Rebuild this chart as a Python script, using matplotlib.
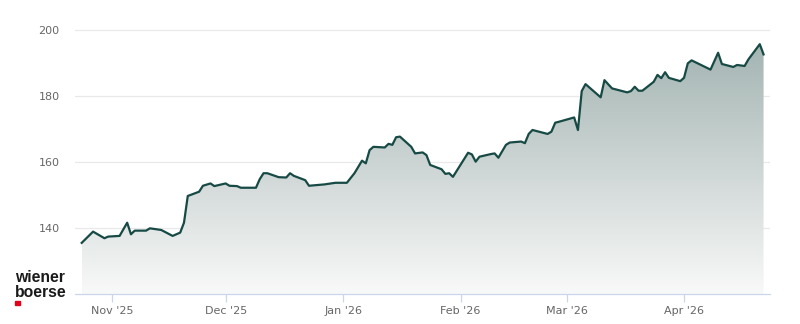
import matplotlib
matplotlib.use("Agg")
import matplotlib.pyplot as plt
import matplotlib.dates as mdates
import numpy as np
import pandas as pd
from matplotlib.patches import Rectangle

dates = ["2025-10-24","2025-10-27","2025-10-30","2025-10-31","2025-11-03","2025-11-05","2025-11-06",
         "2025-11-07","2025-11-10","2025-11-11","2025-11-14","2025-11-17","2025-11-19","2025-11-20",
         "2025-11-21","2025-11-24","2025-11-25","2025-11-27","2025-11-28","2025-12-01","2025-12-02",
         "2025-12-04","2025-12-05","2025-12-09","2025-12-10","2025-12-11","2025-12-12","2025-12-15",
         "2025-12-17","2025-12-18","2025-12-19","2025-12-22","2025-12-23","2025-12-27","2025-12-30",
         "2026-01-02","2026-01-04","2026-01-06","2026-01-07","2026-01-08","2026-01-09","2026-01-12",
         "2026-01-13","2026-01-14","2026-01-15","2026-01-16","2026-01-19","2026-01-20","2026-01-22",
         "2026-01-23","2026-01-24","2026-01-27","2026-01-28","2026-01-29","2026-01-30","2026-02-03",
         "2026-02-04","2026-02-05","2026-02-06","2026-02-09","2026-02-10","2026-02-11","2026-02-13",
         "2026-02-14","2026-02-17","2026-02-18","2026-02-19","2026-02-20","2026-02-24","2026-02-25",
         "2026-02-26","2026-02-27","2026-03-03","2026-03-04","2026-03-05","2026-03-06","2026-03-10",
         "2026-03-11","2026-03-13","2026-03-17","2026-03-18","2026-03-19","2026-03-20","2026-03-21",
         "2026-03-24","2026-03-25","2026-03-26","2026-03-27","2026-03-28","2026-03-31","2026-04-01",
         "2026-04-02","2026-04-03","2026-04-08","2026-04-10","2026-04-11","2026-04-14","2026-04-15",
         "2026-04-17","2026-04-18","2026-04-21","2026-04-22"]
prices = [135.5,138.9,136.9,137.4,137.6,141.6,138.1,
          139.2,139.2,139.9,139.4,137.6,138.6,141.6,
          149.7,151.0,152.8,153.5,152.7,153.5,152.8,
          152.7,152.2,152.2,154.8,156.6,156.6,155.4,
          155.3,156.6,155.8,154.5,152.8,153.2,153.7,
          153.7,156.6,160.4,159.6,163.6,164.6,164.4,
          165.5,165.2,167.5,167.7,164.6,162.6,162.9,
          162.1,159.1,157.8,156.4,156.6,155.5,162.8,
          162.3,160.1,161.6,162.4,162.6,161.3,165.2,
          165.9,166.2,165.7,168.5,169.7,168.5,169.2,
          171.9,172.2,173.5,169.7,181.5,183.6,179.6,
          184.8,182.3,181.1,181.5,182.8,181.6,181.6,
          184.3,186.4,185.4,187.2,185.5,184.5,185.5,
          189.9,190.8,188.0,193.1,189.7,188.8,189.4,
          189.1,191.1,195.7,192.6]
tick_dates = ["2025-11-01","2025-12-01","2026-01-01","2026-02-01","2026-03-01","2026-04-01"]
tick_labels = ["Nov '25","Dec '25","Jan '26","Feb '26","Mar '26","Apr '26"]
y_ticks = [140, 160, 180, 200]

x = mdates.date2num(pd.to_datetime(dates))
y = np.array(prices)

fig = plt.figure(figsize=(8, 3.24), dpi=100)
ax = fig.add_axes([75/800, 30/324, 695/800, 280.5/324])
ymin, ymax = 120, 205
nov1 = mdates.date2num(pd.Timestamp("2025-11-01"))

# gradient fill
top = np.array([0.60, 0.675, 0.665])
bot = np.array([0.975, 0.975, 0.975])
n = 256
t = np.linspace(0, 1, n)[:, None]
grad = (top * (1 - t) + bot * t)[:, None, :]
poly = ax.fill_between(x, y, ymin, color="none", lw=0)
im = ax.imshow(grad, aspect="auto", extent=[x[0], x[-1], ymin, ymax], origin="upper", zorder=1)
path = poly.get_paths()[0]
im.set_clip_path(path, transform=ax.transData)
ax.set_xlim(nov1 - 9.77, nov1 + 173.7)
ax.set_ylim(ymin, ymax)

ax.plot(x, y, color="#174a45", lw=1.6, zorder=3, solid_joinstyle="round")

ax.set_yticks(y_ticks)
ax.set_yticklabels([str(v) for v in y_ticks])
ax.grid(axis="y", color="#e9e9e9", lw=0.9, zorder=0)
ax.set_axisbelow(True)
ax.tick_params(axis="y", length=0, pad=11, labelsize=8, labelcolor="#666666")
ax.set_xticks(mdates.date2num(pd.to_datetime(tick_dates)))
ax.set_xticklabels(tick_labels)
ax.tick_params(axis="x", length=6, width=0.9, color="#ccd6eb", pad=3, labelsize=8, labelcolor="#666666")
for s in ["top", "right", "left"]:
    ax.spines[s].set_visible(False)
ax.spines["bottom"].set_color("#ccd6eb")
ax.spines["bottom"].set_linewidth(0.9)

# logo
fig.text(15/800, 1 - 282/324, "wiener", family="Liberation Sans", fontsize=11.3, fontweight="bold",
         color="#1a1a1a", va="baseline", ha="left")
fig.text(15/800, 1 - 297/324, "boerse", family="Liberation Sans", fontsize=11.3, fontweight="bold",
         color="#1a1a1a", va="baseline", ha="left")
fig.patches.append(Rectangle((15/800, 1 - 305/324), 4.5/800, 4.5/324, transform=fig.transFigure,
                             color="#e2001a", figure=fig))

fig.savefig("out.png", dpi=100)
